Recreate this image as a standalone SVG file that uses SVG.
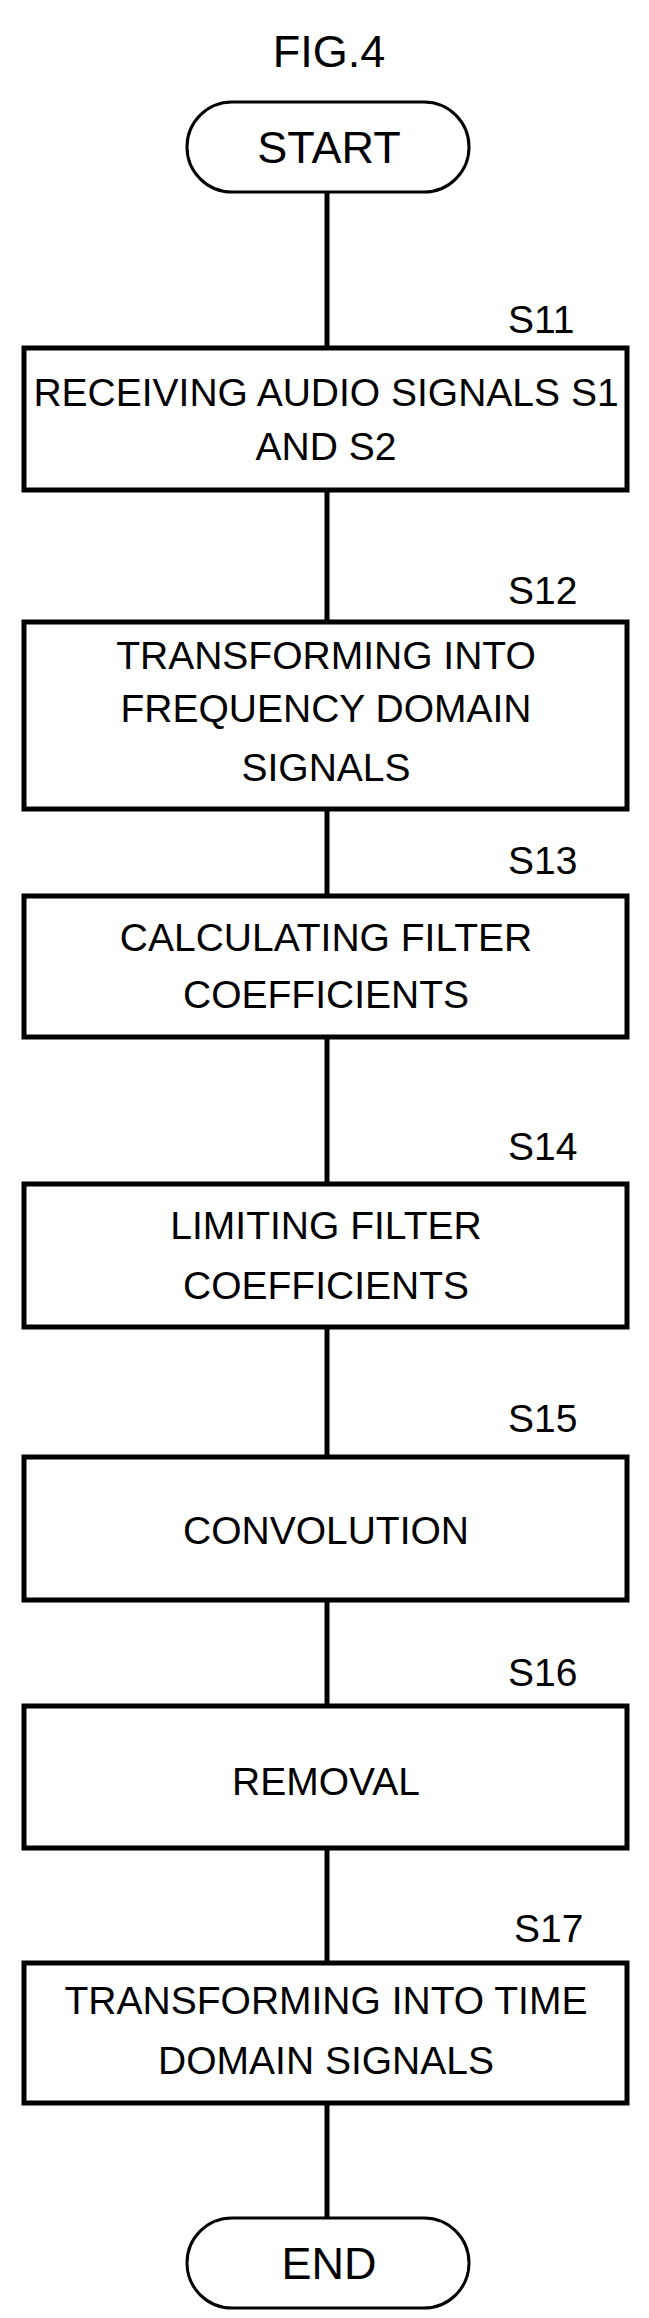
<svg xmlns="http://www.w3.org/2000/svg" width="649" height="2318" viewBox="0 0 649 2318">
<style>
.b{fill:#fff;stroke:#000;stroke-width:5}
.t{font-family:"Liberation Sans",Arial,sans-serif;font-size:39px;text-anchor:middle;fill:#000}
.l{font-family:"Liberation Sans",Arial,sans-serif;font-size:39px;text-anchor:start;fill:#000}
.c{stroke:#000;stroke-width:5;fill:none}
</style>
<rect width="649" height="2318" fill="#fff"/>
<text class="t" x="329" y="67" style="font-size:45px">FIG.4</text>
<g id="connectors">
<line class="c" x1="327" y1="192" x2="327" y2="348"/>
<line class="c" x1="327" y1="490" x2="327" y2="622"/>
<line class="c" x1="327" y1="809" x2="327" y2="896"/>
<line class="c" x1="327" y1="1037" x2="327" y2="1184"/>
<line class="c" x1="327" y1="1327" x2="327" y2="1457"/>
<line class="c" x1="327" y1="1600" x2="327" y2="1706"/>
<line class="c" x1="327" y1="1848" x2="327" y2="1963"/>
<line class="c" x1="327" y1="2103" x2="327" y2="2218"/>
</g>
<g id="start"><rect class="b" x="187" y="102" width="282" height="90" rx="45" style="stroke-width:3"/><text class="t" x="329" y="163" style="font-size:45px">START</text></g>
<g id="s11"><rect class="b" x="24" y="348" width="603" height="142"/><text class="l" x="508" y="333">S11</text><text class="t" x="326" y="406">RECEIVING AUDIO SIGNALS S1</text><text class="t" x="326" y="460">AND S2</text></g>
<g id="s12"><rect class="b" x="24" y="622" width="603" height="187"/><text class="l" x="508" y="604">S12</text><text class="t" x="326" y="669">TRANSFORMING INTO</text><text class="t" x="326" y="722">FREQUENCY DOMAIN</text><text class="t" x="326" y="781">SIGNALS</text></g>
<g id="s13"><rect class="b" x="24" y="896" width="603" height="141"/><text class="l" x="508" y="874">S13</text><text class="t" x="326" y="951">CALCULATING FILTER</text><text class="t" x="326" y="1008">COEFFICIENTS</text></g>
<g id="s14"><rect class="b" x="24" y="1184" width="603" height="143"/><text class="l" x="508" y="1160">S14</text><text class="t" x="326" y="1239">LIMITING FILTER</text><text class="t" x="326" y="1299">COEFFICIENTS</text></g>
<g id="s15"><rect class="b" x="24" y="1457" width="603" height="143"/><text class="l" x="508" y="1432">S15</text><text class="t" x="326" y="1544">CONVOLUTION</text></g>
<g id="s16"><rect class="b" x="24" y="1706" width="603" height="142"/><text class="l" x="508" y="1686">S16</text><text class="t" x="326" y="1795">REMOVAL</text></g>
<g id="s17"><rect class="b" x="24" y="1963" width="603" height="140"/><text class="l" x="514" y="1942">S17</text><text class="t" x="326" y="2014">TRANSFORMING INTO TIME</text><text class="t" x="326" y="2074">DOMAIN SIGNALS</text></g>
<g id="end"><rect class="b" x="187" y="2218" width="282" height="90" rx="45" style="stroke-width:3"/><text class="t" x="329" y="2279" style="font-size:45px">END</text></g>
</svg>
